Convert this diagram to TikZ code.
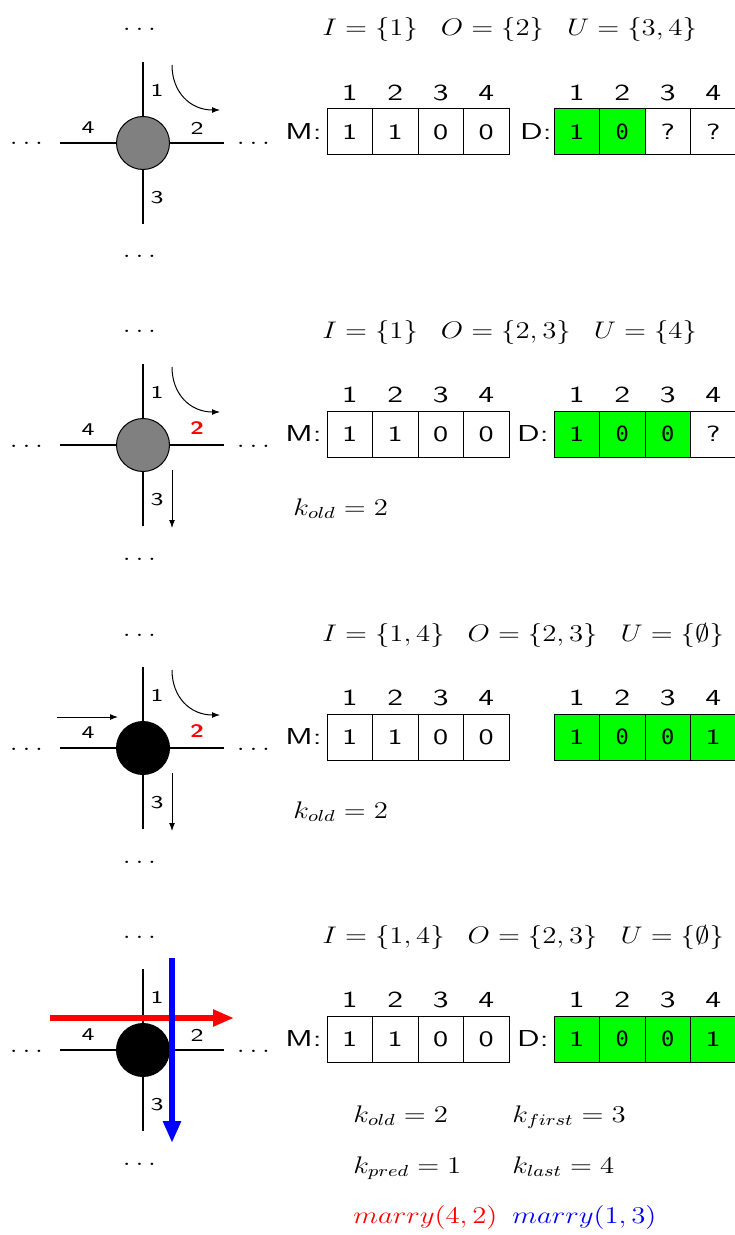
\documentclass[tikz,border=0pt]{standalone}
\usepackage{fontspec}
\usepackage{graphicx}
\usetikzlibrary{arrows.meta}
\newfontfamily\dvmono{DejaVu Sans Mono}
\definecolor{dgreen}{RGB}{0,255,0}
\definecolor{hubgray}{RGB}{128,128,128}
\newcommand\hs[1]{\scalebox{1.2}[1]{#1}}
\newcommand\ws[1]{\scalebox{1.4}[1]{#1}}
\newcommand\zz{\scalebox{1.05}[1]{\dvmono\fontsize{10.5}{12}\selectfont 0}}
\newcommand\gap{\hspace{0.8em}}
\tikzset{
  road/.style={line width=0.55pt},
  hub/.style={circle, draw, line width=0.5pt, minimum size=26.5pt, inner sep=0pt},
  lbl/.style={font=\sffamily\fontsize{9}{10}\selectfont, inner sep=0pt},
  cell/.style={draw, line width=0.5pt, minimum width=22.75pt, minimum height=23pt, inner sep=0pt, font=\sffamily\fontsize{11}{12}\selectfont},
  dcell/.style={cell, fill=dgreen},
  hdr/.style={inner sep=0pt, font=\sffamily\fontsize{11.5}{12}\selectfont},
  mtext/.style={inner sep=0pt, font=\fontsize{12}{14}\selectfont, anchor=base west},
  dotsn/.style={inner sep=0pt, anchor=base, font=\fontsize{12}{14}\selectfont},
  turn/.style={-{Latex[length=4pt,width=3pt]}, line width=0.5pt},
}
% crossing: #1 = hub fill
\newcommand\crossing[1]{%
  \coordinate (n) at (143,62);
  \coordinate (s) at (143,224);
  \coordinate (w) at (60,143);
  \coordinate (e) at (224,143);
  \node[hub, fill=#1] (c) at (143,143) {};
  \draw[road] (n) -- (c.north);
  \draw[road] (c.south) -- (s);
  \draw[road] (w) -- (c.west);
  \draw[road] (c.east) -- (e);
  \node[dotsn] (dt) at (139.5,31) {\hs{$\ldots$}};
  \node[dotsn] (db) at (139.5,258) {\hs{$\ldots$}};
  \node[dotsn] (dl) at (26.5,145) {\hs{$\ldots$}};
  \node[dotsn] (dr) at (253.5,145) {\hs{$\ldots$}};
  \node[lbl] (l1) at (157,90) {\ws{1}};
  \node[lbl] (l4) at (88,128) {\ws{4}};
  \node[lbl] (l3) at (157,198) {\ws{3}};
}
\newcommand\turnarrow{%
  \coordinate (ta) at (172,65);
  \coordinate (tb) at (220,110);
  \draw[turn] (ta) .. controls (172,92) and (190,110) .. (tb);
}
% M array
\newcommand\marray{%
  \node[hdr] (h1) at (349.75,93) {\ws{1}};
  \node[hdr] (h2) at (395.25,93) {\ws{2}};
  \node[hdr] (h3) at (440.75,93) {\ws{3}};
  \node[hdr] (h4) at (486.25,93) {\ws{4}};
  \node[cell] (m1) at (349.75,132) {\ws{1}};
  \node[cell] (m2) at (395.25,132) {\ws{1}};
  \node[cell] (m3) at (440.75,132) {\ws{0}};
  \node[cell] (m4) at (486.25,132) {\ws{0}};
  \node[hdr, anchor=east] (ml) at (322,132) {\ws{M:}};
  \node[hdr] (g1) at (576.75,93) {\ws{1}};
  \node[hdr] (g2) at (622.25,93) {\ws{2}};
  \node[hdr] (g3) at (667.75,93) {\ws{3}};
  \node[hdr] (g4) at (713.25,93) {\ws{4}};
}
\begin{document}
\begin{tikzpicture}[x=0.5pt, y=-0.5pt]
\useasboundingbox (0,0) rectangle (734,1235);

% ---------- panel 1 ----------
\begin{scope}[name prefix=p1-]
  \crossing{hubgray}
  \node[lbl] (l2) at (197,128) {\ws{2}};
  \turnarrow
  \node[mtext] (set) at (322,36) {\hs{$I=\{1\}\gap O=\{2\}\gap U=\{3,4\}$}};
  \marray
  \node[hdr, anchor=east] (dl) at (552,132) {\ws{D:}};
  \node[dcell] (d1) at (576.75,132) {\ws{1}};
  \node[dcell] (d2) at (622.25,132) {\zz};
  \node[cell] (d3) at (667.75,132) {\ws{?}};
  \node[cell] (d4) at (713.25,132) {\ws{?}};
\end{scope}

% ---------- panel 2 ----------
\begin{scope}[shift={(0,302)}, name prefix=p2-]
  \crossing{hubgray}
  \node[lbl, text=red, font=\sffamily\bfseries\fontsize{9}{10}\selectfont] (l2) at (197,126) {\ws{2}};
  \turnarrow
  \coordinate (da) at (172,168);
  \coordinate (db) at (172,226);
  \draw[turn] (da) -- (db);
  \node[mtext] (set) at (322,36) {\hs{$I=\{1\}\gap O=\{2,3\}\gap U=\{4\}$}};
  \marray
  \node[hdr, anchor=east] (dl) at (549,132) {\ws{D:}};
  \node[dcell] (d1) at (576.75,132) {\ws{1}};
  \node[dcell] (d2) at (622.25,132) {\zz};
  \node[dcell] (d3) at (667.75,132) {\zz};
  \node[cell] (d4) at (713.25,132) {\ws{?}};
  \node[mtext] (ko) at (293,213) {\hs{$k_{old}=2$}};
\end{scope}

% ---------- panel 3 ----------
\begin{scope}[shift={(0,605)}, name prefix=p3-]
  \crossing{black}
  \node[lbl, text=red, font=\sffamily\bfseries\fontsize{9}{10}\selectfont] (l2) at (197,126) {\ws{2}};
  \turnarrow
  \coordinate (da) at (172,168);
  \coordinate (db) at (172,226);
  \draw[turn] (da) -- (db);
  \coordinate (ia) at (57,112);
  \coordinate (ib) at (118,112);
  \draw[turn] (ia) -- (ib);
  \node[mtext] (set) at (322,36) {\hs{$I=\{1,4\}\gap O=\{2,3\}\gap U=\{\emptyset\}$}};
  \marray
  \node[dcell] (d1) at (576.75,132) {\ws{1}};
  \node[dcell] (d2) at (622.25,132) {\zz};
  \node[dcell] (d3) at (667.75,132) {\zz};
  \node[dcell] (d4) at (713.25,132) {\ws{1}};
  \node[mtext] (ko) at (293,213) {\hs{$k_{old}=2$}};
\end{scope}

% ---------- panel 4 ----------
\begin{scope}[shift={(0,907)}, name prefix=p4-]
  \crossing{black}
  \node[lbl] (l2) at (197,128) {\ws{2}};
  \coordinate (ra) at (50,111);
  \coordinate (rb) at (234,111);
  \draw[red, line width=2.75pt, -{Triangle[length=10.5pt,width=8pt]}] (ra) -- (rb);
  \coordinate (ba) at (172,51);
  \coordinate (bb) at (172,236);
  \draw[blue, line width=2.75pt, -{Triangle[length=11pt,width=8.5pt]}] (ba) -- (bb);
  \node[mtext] (set) at (322,36) {\hs{$I=\{1,4\}\gap O=\{2,3\}\gap U=\{\emptyset\}$}};
  \marray
  \node[hdr, anchor=east] (dl) at (549,132) {\ws{D:}};
  \node[dcell] (d1) at (576.75,132) {\ws{1}};
  \node[dcell] (d2) at (622.25,132) {\zz};
  \node[dcell] (d3) at (667.75,132) {\zz};
  \node[dcell] (d4) at (713.25,132) {\ws{1}};
  \node[mtext] (ko) at (353,215) {\hs{$k_{old}=2$}};
  \node[mtext] (kf) at (512,215) {\hs{$k_{first}=3$}};
  \node[mtext] (kp) at (353,266) {\hs{$k_{pred}=1$}};
  \node[mtext] (kl) at (512,266) {\hs{$k_{last}=4$}};
  \node[mtext, text=red] (mr) at (353,316) {\hs{$marry(4,2)$}};
  \node[mtext, text=blue] (mb) at (512,316) {\hs{$marry(1,3)$}};
\end{scope}
\end{tikzpicture}
\end{document}
